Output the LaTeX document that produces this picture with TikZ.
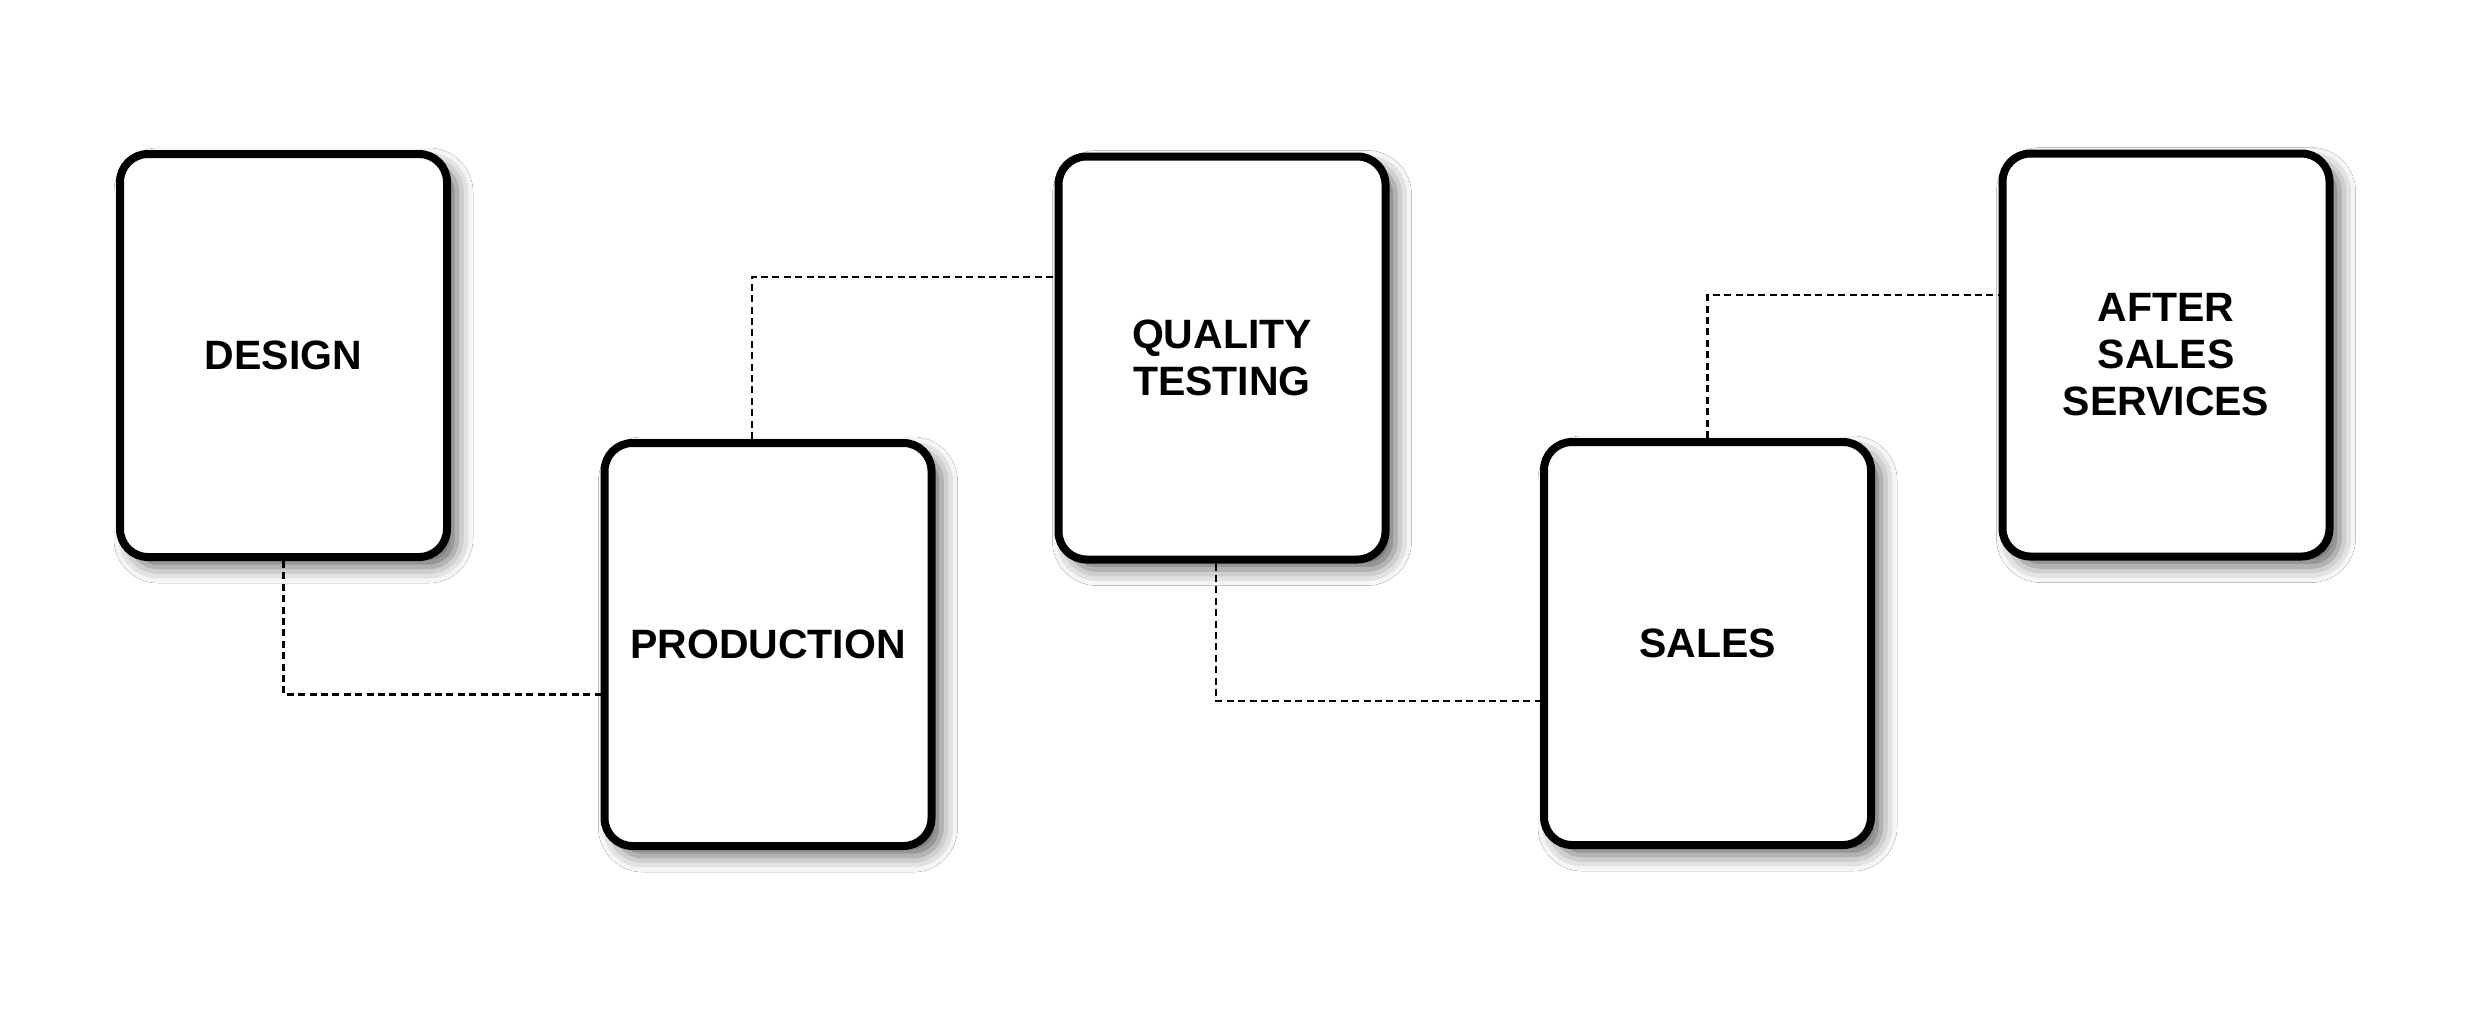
\documentclass[tikz,border=0pt]{standalone}
\usepackage{fontspec}
\setmainfont{Liberation Sans}
\usetikzlibrary{calc,shadows.blur}
\tikzset{
  stagebox/.style={draw=black, line width=4pt, fill=white, rounded corners=14pt,
    minimum width=163.5pt, minimum height=201.5pt, align=center,
    font=\fontsize{20.5pt}{23.5pt}\selectfont\bfseries,
    blur shadow={shadow xshift=5pt, shadow yshift=-5pt, shadow blur radius=8pt, shadow opacity=60}},
  conn/.style={draw=black, line width=1.2pt, dash pattern=on 3.5pt off 2.2pt}
}
\begin{document}
\begin{tikzpicture}[x=0.5pt,y=-0.5pt]
\fill[white] (0,0) rectangle (2482,1014);
\useasboundingbox (0,0) rectangle (2482,1014);
\node[stagebox] (design) at (283.5,355.5) {DESIGN};
\node[stagebox] (production) at (768,644.5) {PRODUCTION};
\node[stagebox] (quality) at (1222,358) {QUALITY\\TESTING};
\node[stagebox] (sales) at (1707.5,643.5) {SALES};
\node[stagebox] (after) at (2166,355) {AFTER\\SALES\\SERVICES};
\draw[conn] (design.south) |- ([yshift=-25pt]production.west);
\draw[conn] ([xshift=-8pt]production.north) |- ([yshift=40.5pt]quality.west);
\draw[conn] ([xshift=-3pt]quality.south) |- ([yshift=-28.75pt]sales.west);
\draw[conn] (sales.north) |- ([yshift=30pt]after.west);
\end{tikzpicture}
\end{document}
